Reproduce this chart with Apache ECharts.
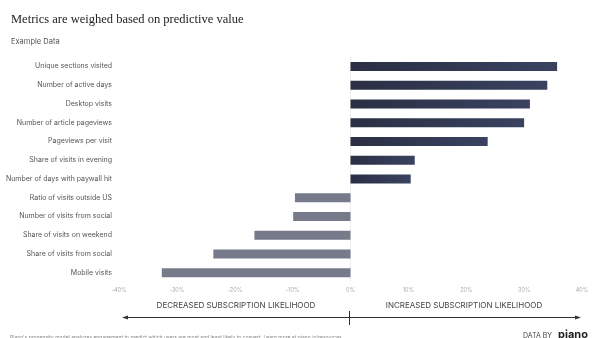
<!DOCTYPE html>
<html><head><meta charset="utf-8">
<script src="https://cdn.jsdelivr.net/npm/echarts@6/dist/echarts.min.js"></script>
<style>html,body{margin:0;padding:0;background:#fff}#c{width:600px;height:338px}</style>
</head><body><div id="c"></div>
<script>
const categories = ["Unique sections visited","Number of active days","Desktop visits","Number of article pageviews","Pageviews per visit","Share of visits in evening","Number of days with paywall hit","Ratio of visits outside US","Number of visits from social","Share of visits on weekend","Share of visits from social","Mobile visits"];
const values = [35.7, 34.0, 31.0, 30.0, 23.7, 11.1, 10.4, -9.6, -9.9, -16.6, -23.7, -32.6];
const xTicks = [-40, -30, -20, -10, 0, 10, 20, 30, 40];

const chart = echarts.init(document.getElementById('c'));
const posColor = new echarts.graphic.LinearGradient(0,0,1,0,[{offset:0,color:'#2a2f44'},{offset:1,color:'#3a4260'}]);
chart.setOption({
  animation:false,
  title:[{text:'Metrics are weighed based on predictive value',left:6,top:8,textStyle:{fontFamily:'Liberation Serif',fontWeight:'normal',fontSize:12.5,color:'#222'}},
         {text:'Example Data',left:6,top:33,textStyle:{fontFamily:'Inter',fontWeight:'normal',fontSize:7.5,color:'#555'}}],
  grid:{left:119,right:18,top:57,bottom:56},
  xAxis:{type:'value',min:xTicks[0],max:xTicks[xTicks.length-1],interval:10,
    axisLabel:{formatter:v=>v+'%',fontSize:5.5,color:'#aaa',fontFamily:'Inter',margin:5},
    splitLine:{show:false},axisLine:{show:false},axisTick:{show:false}},
  yAxis:{type:'category',data:categories,inverse:true,
    axisLine:{show:true,lineStyle:{color:'#eee'}},axisTick:{show:false},
    axisLabel:{fontSize:7,color:'#555',fontFamily:'Inter',margin:7}},
  series:[{type:'bar',barWidth:9,
    data:values.map(v=>({value:v,itemStyle:{color:v>=0?posColor:'#777a8a'}}))}],
  graphic:[
    {type:'text',style:{text:'DECREASED SUBSCRIPTION LIKELIHOOD',x:236,y:306,align:'center',verticalAlign:'middle',font:'8px Inter',fill:'#444'}},
    {type:'text',style:{text:'INCREASED SUBSCRIPTION LIKELIHOOD',x:464,y:306,align:'center',verticalAlign:'middle',font:'8px Inter',fill:'#444'}},
    {type:'line',shape:{x1:124,y1:317.5,x2:579,y2:317.5},style:{stroke:'#333',lineWidth:1}},
    {type:'polygon',shape:{points:[[122,317.5],[128,315.5],[128,319.5]]},style:{fill:'#333'}},
    {type:'polygon',shape:{points:[[581,317.5],[575,315.5],[575,319.5]]},style:{fill:'#333'}},
    {type:'line',shape:{x1:349.5,y1:311,x2:349.5,y2:325},style:{stroke:'#333',lineWidth:1}},
    {type:'text',style:{text:"Piano's propensity model analyzes engagement to predict which users are most and least likely to convert. Learn more at piano.io/resources",x:10,y:337,verticalAlign:'middle',font:'5px Inter',fill:'#888'}},
    {type:'text',style:{text:'DATA BY',x:523,y:336,verticalAlign:'middle',font:'7px Inter',fill:'#444'}},
    {type:'text',style:{text:'piano',x:558,y:335,verticalAlign:'middle',font:'bold 11px Inter',fill:'#222'}}
  ]
});
</script></body></html>
